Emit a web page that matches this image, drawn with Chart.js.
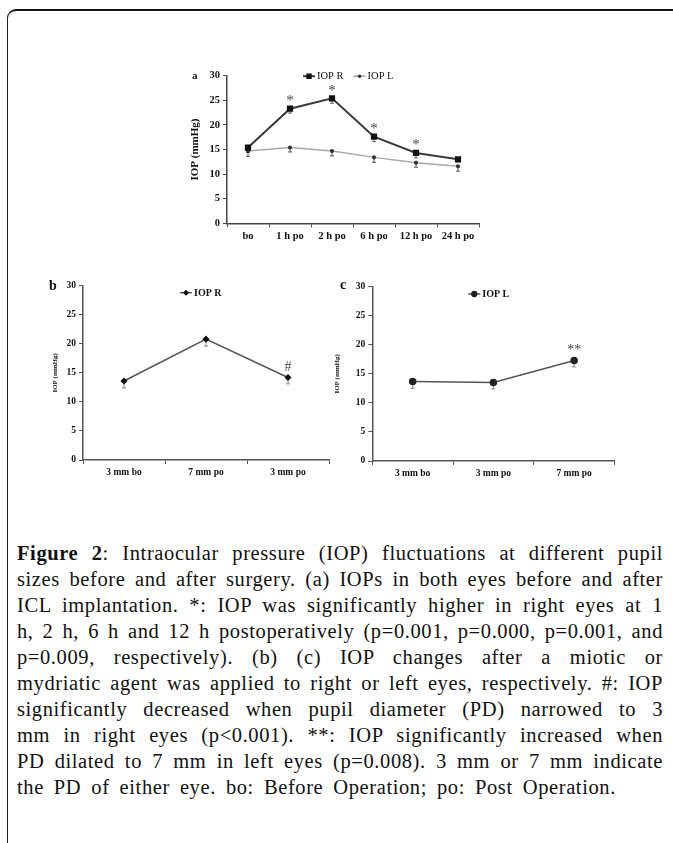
<!DOCTYPE html>
<html>
<head>
<meta charset="utf-8">
<script src="https://cdn.jsdelivr.net/npm/chart.js@4.4.1/dist/chart.umd.min.js"></script>
<style>
  html, body { margin: 0; padding: 0; background: #fff; }
  body { width: 673px; height: 843px; position: relative; overflow: hidden; font-family: "Liberation Serif", serif; }
  .frame { position: absolute; left: 7px; top: 9px; width: 700px; height: 900px;
           border-left: 1.5px solid #222; border-top: 2px solid #111; border-top-left-radius: 9px; }
  canvas { position: absolute; }
  .panel { position: absolute; font-weight: bold; color: #111; line-height: 1; }
  .caption { position: absolute; left: 17px; top: 540px; width: 646px; font-size: 20.5px; line-height: 26px;
             letter-spacing: 0.6px; word-spacing: 3px; color: #111; }
  .caption div { text-align: justify; text-align-last: justify; }
  .caption div.last { text-align-last: left; word-spacing: 4.3px; }
</style>
</head>
<body>
<div class="frame"></div>

<canvas id="chartA" width="320" height="200" style="left:180px; top:60px;"></canvas>
<canvas id="chartB" width="300" height="210" style="left:40px; top:275px;"></canvas>
<canvas id="chartC" width="300" height="210" style="left:320px; top:275px;"></canvas>

<div class="panel" style="left:192px; top:70px; font-size:11px;">a</div>
<div class="panel" style="left:49px; top:279px; font-size:14px;">b</div>
<div class="panel" style="left:340px; top:278px; font-size:14px;">c</div>

<div class="caption">
  <div><b>Figure 2</b>: Intraocular pressure (IOP) fluctuations at different pupil</div>
  <div>sizes before and after surgery. (a) IOPs in both eyes before and after</div>
  <div>ICL implantation. *: IOP was significantly higher in right eyes at 1</div>
  <div>h, 2 h, 6 h and 12 h postoperatively (p=0.001, p=0.000, p=0.001, and</div>
  <div>p=0.009, respectively). (b) (c) IOP changes after a miotic or</div>
  <div>mydriatic agent was applied to right or left eyes, respectively. #: IOP</div>
  <div>significantly decreased when pupil diameter (PD) narrowed to 3</div>
  <div>mm in right eyes (p&lt;0.001). **: IOP significantly increased when</div>
  <div>PD dilated to 7 mm in left eyes (p=0.008). 3 mm or 7 mm indicate</div>
  <div class="last">the PD of either eye. bo: Before Operation; po: Post Operation.</div>
</div>

<script>
// panel a
const timeLabels = ['bo', '1 h po', '2 h po', '6 h po', '12 h po', '24 h po'];
const iopRight = [15.4, 23.3, 25.4, 17.6, 14.3, 13.0];
const iopRightErr = [1.0, 0.9, 1.0, 1.0, 1.0, 0.5];
const iopLeft = [14.7, 15.4, 14.7, 13.4, 12.3, 11.6];
const iopLeftErr = [1.1, 0.9, 1.0, 1.0, 0.9, 1.0];
const marksA = ['', '*', '*', '*', '*', ''];

// panel b
const labelsB = ['3 mm bo', '7 mm po', '3 mm po'];
const iopB = [13.6, 20.8, 14.2];
const iopBErr = [1.2, 1.2, 1.1];
const marksB = ['', '', '#'];

// panel c
const labelsC = ['3 mm bo', '3 mm po', '7 mm po'];
const iopC = [13.7, 13.5, 17.3];
const iopCErr = [1.2, 1.1, 1.1];
const marksC = ['', '', '**'];

const yTicks = [0, 5, 10, 15, 20, 25, 30];

// one-sided (minus) error bars, drawn under the line
const errorBars = {
  id: 'errorBars',
  beforeDatasetsDraw(chart) {
    const ctx = chart.ctx;
    const y = chart.scales.y;
    chart.data.datasets.forEach((ds, i) => {
      if (!ds.errors) return;
      const meta = chart.getDatasetMeta(i);
      ctx.save();
      ctx.strokeStyle = ds.errorColor || '#777';
      ctx.lineWidth = 1;
      meta.data.forEach((pt, j) => {
        const y0 = y.getPixelForValue(ds.data[j]);
        const y1 = y.getPixelForValue(ds.data[j] - ds.errors[j]);
        ctx.beginPath();
        ctx.moveTo(pt.x, y0);
        ctx.lineTo(pt.x, y1);
        ctx.moveTo(pt.x - 2, y1);
        ctx.lineTo(pt.x + 2, y1);
        ctx.stroke();
      });
      ctx.restore();
    });
  }
};

// significance marks above points
const sigMarks = {
  id: 'sigMarks',
  afterDatasetsDraw(chart, args, opts) {
    const ctx = chart.ctx;
    chart.data.datasets.forEach((ds, i) => {
      if (!ds.marks) return;
      const meta = chart.getDatasetMeta(i);
      ctx.save();
      ctx.fillStyle = '#444';
      ctx.font = opts.font;
      ctx.textAlign = 'center';
      ctx.textBaseline = 'bottom';
      meta.data.forEach((pt, j) => {
        if (ds.marks[j]) ctx.fillText(ds.marks[j], pt.x, pt.y - opts.gap);
      });
      ctx.restore();
    });
  }
};

// legend drawn inside the plot area
const innerLegend = {
  id: 'innerLegend',
  afterDraw(chart, args, opts) {
    const ctx = chart.ctx;
    const area = chart.chartArea;
    let x = area.left + opts.dx;
    const y = area.top + opts.dy;
    ctx.save();
    ctx.font = opts.font;
    ctx.textBaseline = 'middle';
    chart.data.datasets.forEach(ds => {
      ctx.strokeStyle = ds.borderColor;
      ctx.lineWidth = ds.borderWidth;
      ctx.beginPath();
      ctx.moveTo(x, y);
      ctx.lineTo(x + 12, y);
      ctx.stroke();
      ctx.fillStyle = ds.pointBackgroundColor;
      ctx.strokeStyle = ds.pointBorderColor;
      Chart.helpers.drawPoint(ctx, {
        pointStyle: ds.pointStyle, radius: ds.pointRadius * 0.8, rotation: 0, borderWidth: 1
      }, x + 6, y);
      ctx.fillStyle = '#111';
      ctx.fillText(ds.label, x + 14, y + 0.5);
      x += 14 + ctx.measureText(ds.label).width + opts.gap;
    });
    ctx.restore();
  }
};

function scalesFor(labels, o) {
  return {
    x: {
      type: 'category',
      labels: labels,
      offset: true,
      grid: { offset: true, drawOnChartArea: false, tickLength: 4, color: o.axisColor },
      border: { display: true, color: o.axisColor, width: o.axisWidth },
      ticks: { font: o.tickFont, color: '#111', padding: 3, maxRotation: 0, autoSkip: false },
      afterFit: s => { s.height = o.xHeight; }
    },
    y: {
      min: 0,
      max: 30,
      afterBuildTicks: s => { s.ticks = yTicks.map(v => ({ value: v })); },
      grid: { drawOnChartArea: false, tickLength: 4, color: o.axisColor },
      border: { display: true, color: o.axisColor, width: o.axisWidth },
      ticks: { font: o.tickFont, color: '#111', padding: 3 },
      title: { display: true, text: 'IOP (mmHg)', font: o.titleFont, color: '#111', padding: { top: 4, bottom: 4 } },
      afterFit: s => { s.width = o.yWidth; }
    }
  };
}

const basePlugins = { legend: { display: false }, tooltip: { enabled: false } };

new Chart(document.getElementById('chartA'), {
  type: 'line',
  data: {
    labels: timeLabels,
    datasets: [{
      label: 'IOP R',
      data: iopRight,
      errors: iopRightErr,
      marks: marksA,
      borderColor: '#3a3a3a',
      borderWidth: 2,
      pointStyle: 'rect',
      pointRadius: 3,
      pointBackgroundColor: '#111',
      pointBorderColor: '#111',
      errorColor: '#666'
    }, {
      label: 'IOP L',
      data: iopLeft,
      errors: iopLeftErr,
      borderColor: '#a8a8a8',
      borderWidth: 1.5,
      pointStyle: 'circle',
      pointRadius: 1.3,
      pointBackgroundColor: '#333',
      pointBorderColor: '#333',
      errorColor: '#555'
    }]
  },
  options: {
    responsive: false,
    animation: false,
    layout: { padding: { left: 4.4, top: 15.7, right: 21, bottom: 0 } },
    scales: scalesFor(timeLabels, {
      axisColor: '#444', axisWidth: 1.5, xHeight: 36.7, yWidth: 42.6,
      tickFont: { family: 'Liberation Serif', size: 10.5, weight: 'bold' },
      titleFont: { family: 'Liberation Serif', size: 11, weight: 'bold' }
    }),
    plugins: Object.assign({}, basePlugins, {
      sigMarks: { font: '15px "Liberation Serif"', gap: 0 },
      innerLegend: { dx: 76, dy: 0.5, gap: 10, font: '10.5px "Liberation Serif"' }
    })
  },
  plugins: [errorBars, sigMarks, innerLegend]
});

new Chart(document.getElementById('chartB'), {
  type: 'line',
  data: {
    labels: labelsB,
    datasets: [{
      label: 'IOP R',
      data: iopB,
      errors: iopBErr,
      marks: marksB,
      borderColor: '#555',
      borderWidth: 1.5,
      pointStyle: 'rectRot',
      pointRadius: 2.5,
      pointBackgroundColor: '#111',
      pointBorderColor: '#111',
      errorColor: '#888'
    }]
  },
  options: {
    responsive: false,
    animation: false,
    layout: { padding: { left: 7, top: 10.7, right: 11, bottom: 0 } },
    scales: scalesFor(labelsB, {
      axisColor: '#555', axisWidth: 1.5, xHeight: 25, yWidth: 36,
      tickFont: { family: 'Liberation Serif', size: 9.5, weight: 'bold' },
      titleFont: { family: 'Liberation Serif', size: 7, weight: 'bold' }
    }),
    plugins: Object.assign({}, basePlugins, {
      sigMarks: { font: '14px "Liberation Serif"', gap: 3 },
      innerLegend: { dx: 97, dy: 7, gap: 10, font: 'bold 10px "Liberation Serif"' }
    })
  },
  plugins: [errorBars, sigMarks, innerLegend]
});

new Chart(document.getElementById('chartC'), {
  type: 'line',
  data: {
    labels: labelsC,
    datasets: [{
      label: 'IOP L',
      data: iopC,
      errors: iopCErr,
      marks: marksC,
      borderColor: '#555',
      borderWidth: 1.5,
      pointStyle: 'circle',
      pointRadius: 3,
      pointBackgroundColor: '#222',
      pointBorderColor: '#222',
      errorColor: '#888'
    }]
  },
  options: {
    responsive: false,
    animation: false,
    layout: { padding: { left: 8.8, top: 11.7, right: 2, bottom: 0 } },
    scales: scalesFor(labelsC, {
      axisColor: '#555', axisWidth: 1.5, xHeight: 24, yWidth: 43.5,
      tickFont: { family: 'Liberation Serif', size: 9.5, weight: 'bold' },
      titleFont: { family: 'Liberation Serif', size: 7, weight: 'bold' }
    }),
    plugins: Object.assign({}, basePlugins, {
      sigMarks: { font: '14px "Liberation Serif"', gap: 3 },
      innerLegend: { dx: 96, dy: 7.3, gap: 10, font: 'bold 10px "Liberation Serif"' }
    })
  },
  plugins: [errorBars, sigMarks, innerLegend]
});
</script>
</body>
</html>
